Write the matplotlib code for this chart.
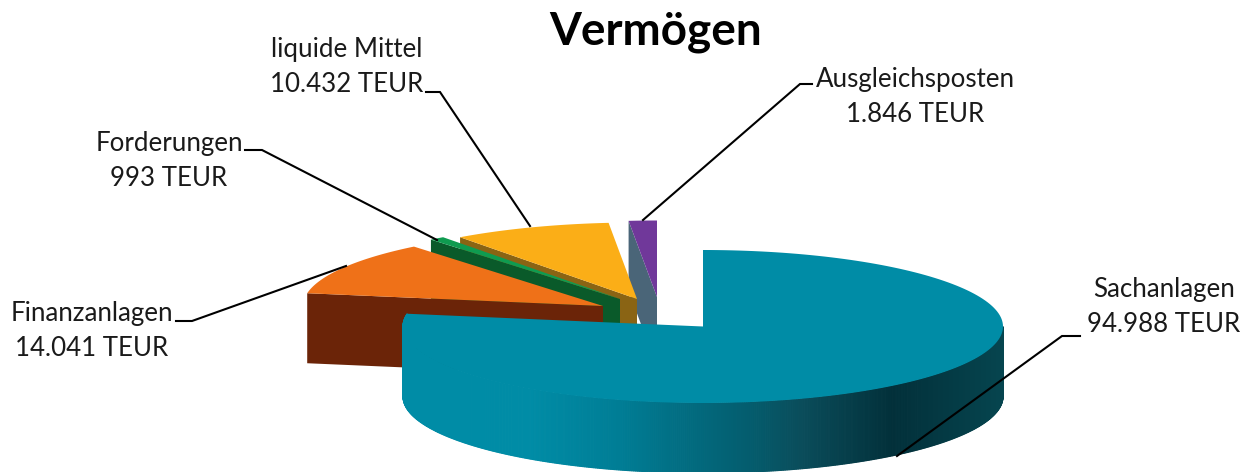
import numpy as np
import matplotlib
matplotlib.use("Agg")
import matplotlib.pyplot as plt
from matplotlib.colors import to_rgb

names = ["Sachanlagen", "Finanzanlagen", "Forderungen", "liquide Mittel", "Ausgleichsposten"]
values = [94988, 14041, 993, 10432, 1846]
title = "Vermögen"

# --- styling / geometry (pixel space) ---
W, H = 1254, 472
RX, RY, DEPTH = 300, 76.5, 70
centers = [(703, 326.5), (603, 306), (620, 299), (637, 299), (657, 297)]
tops = ["#008CA6", "#EF7118", "#0F9B50", "#FBAE17", "#70389A"]
walls = ["#008CA6", "#6B2408", "#0A5A2A", "#8A6414", "#4A6578"]
label_pos = [(1164, 306.5), (92, 330.5), (169, 160.5), (347, 66.5), (915, 96.5)]
leaders = [
    [(1080, 336), (1062, 336), (897, 456)],
    [(176, 321), (192, 321), (346, 266)],
    [(245, 150), (262, 150), (437, 240)],
    [(426, 92), (440, 92), (530, 226)],
    [(812, 84), (800, 84), (643, 220)],
]
grad_x = [403, 530, 620, 751, 800, 892, 1003]
grad_c = ["#008CA6", "#008CA6", "#007D95", "#045C6D", "#0A4D5B", "#02303A", "#06454F"]

plt.rcParams["font.family"] = ["Lato", "DejaVu Sans"]
fig = plt.figure(figsize=(W / 100, H / 100), dpi=100)
ax = fig.add_axes([0, 0, 1, 1])
ax.set_xlim(0, W)
ax.set_ylim(H, 0)
ax.axis("off")


def pt(c, t):
    t = np.radians(t)
    return c[0] + RX * np.sin(t), c[1] - RY * np.cos(t)


total = sum(values)
edges = np.concatenate([[0], np.cumsum(values) / total * 360])

# painter's order: back slices first, teal last
for i in [4, 3, 2, 1, 0]:
    a0, a1 = edges[i], edges[i + 1]
    c = centers[i]
    t = np.linspace(a0, a1, 200)
    xs, ys = pt(c, t)
    if i == 0:
        # outer wall with horizontal shading
        ts = np.linspace(90, a1, 500)
        gc = np.array([to_rgb(k) for k in grad_c])
        for p, q in zip(ts[:-1], ts[1:]):
            xa, ya = pt(c, p)
            xb, yb = pt(c, q)
            xm = (xa + xb) / 2
            col = [np.interp(xm, grad_x, gc[:, k]) for k in range(3)]
            ax.fill([xa, xb, xb, xa], [ya, yb, yb + DEPTH, ya + DEPTH],
                    color=col, lw=0.8, zorder=2)
        ax.fill(np.r_[xs, c[0]], np.r_[ys, c[1]], color=tops[i], lw=0, zorder=3)
    else:
        # radial side wall facing the viewer
        ox, oy = pt(c, a0)
        ax.fill([ox, c[0], c[0], ox], [oy, c[1], c[1] + DEPTH, oy + DEPTH],
                color=walls[i], lw=0, zorder=1)
        ax.fill(np.r_[xs, c[0]], np.r_[ys, c[1]], color=tops[i], lw=0, zorder=1)

for name, val, (x, y), ln in zip(names, values, label_pos, leaders):
    txt = f"{name}\n{val:,}".replace(",", ".") + " TEUR"
    ax.text(x, y, txt, ha="center", va="center", fontsize=18.6, color="#1a1a1a",
            linespacing=1.5, zorder=6)
    ax.plot(*zip(*ln), color="black", lw=1.5, zorder=5, solid_joinstyle="miter")

ax.text(656, 32, title, ha="center", va="center", fontsize=33, fontweight="bold",
        color="black")

fig.savefig("out.png", dpi=100)
